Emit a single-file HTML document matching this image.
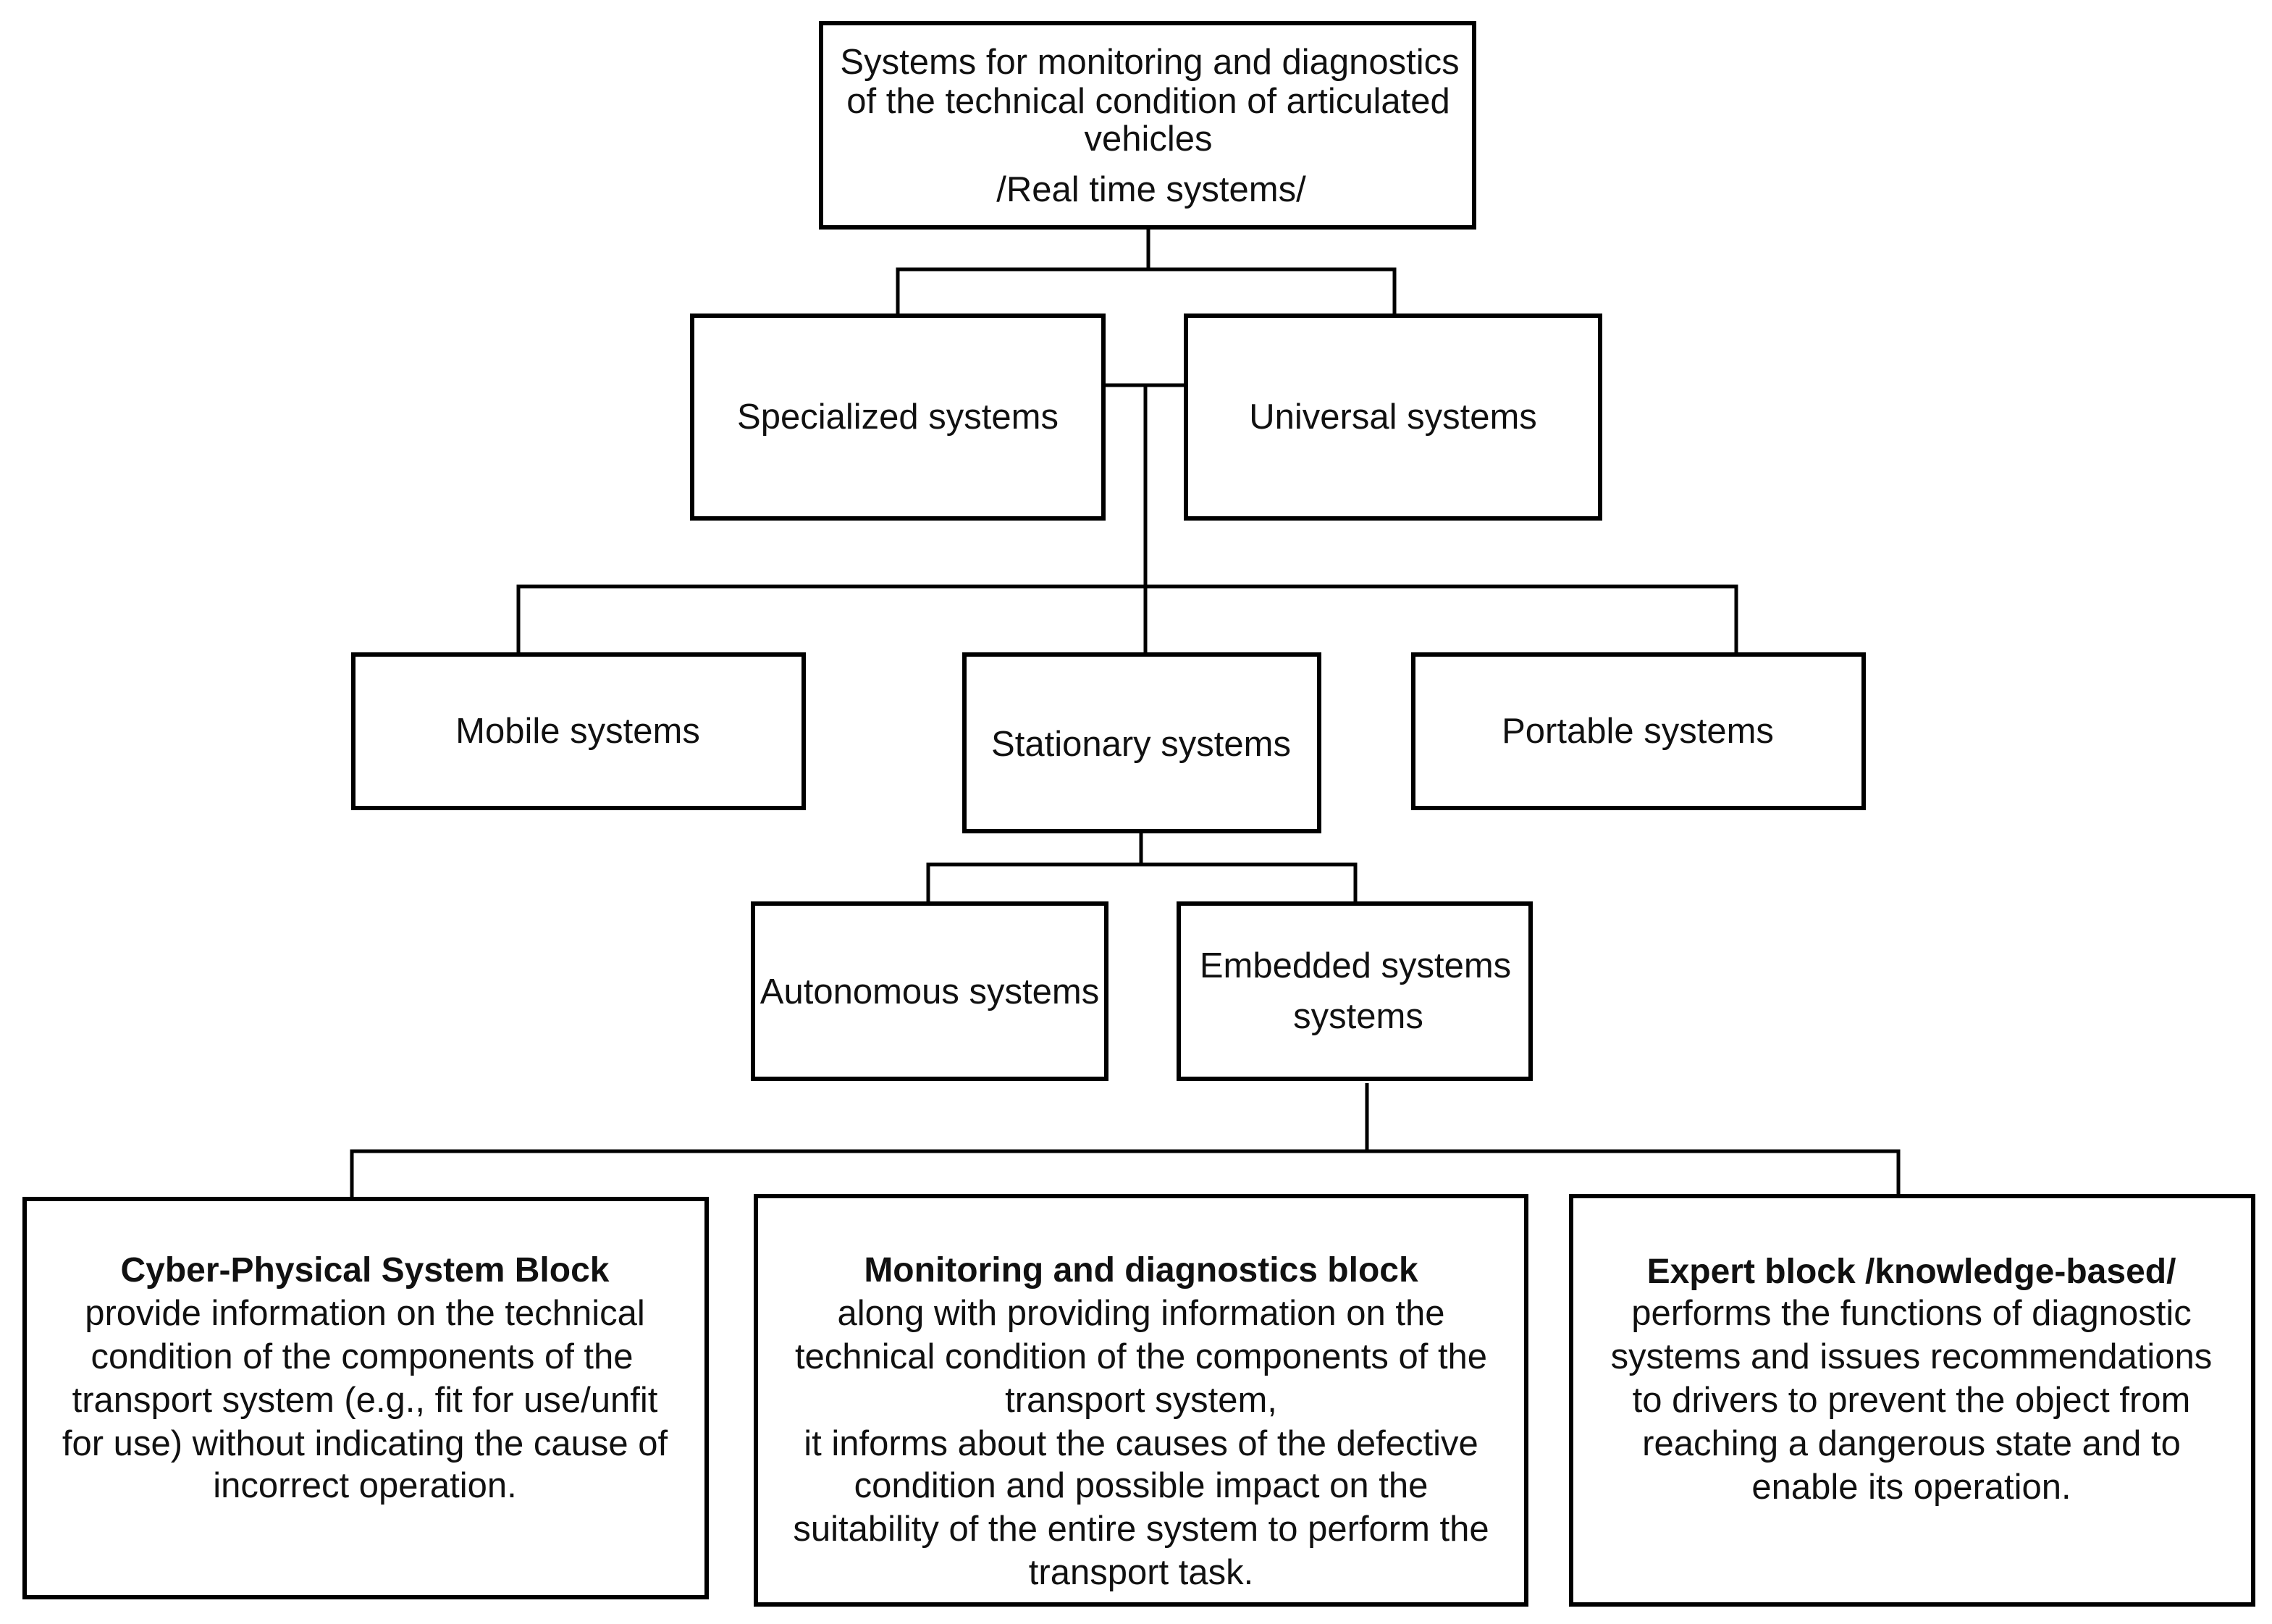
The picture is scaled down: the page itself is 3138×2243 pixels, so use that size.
<!DOCTYPE html>
<html><head><meta charset="utf-8"><style>
html,body{margin:0;padding:0;background:#fff;}
svg{display:block;}
text{font-family:"Liberation Sans",Arial,sans-serif;font-size:24.5px;fill:#111;text-anchor:middle;}
.b{font-weight:bold;font-size:24px;}
rect{fill:#fff;stroke:#000;stroke-width:3;}
line,polyline{stroke:#000;stroke-width:2.5;fill:none;}
</style></head><body>
<svg width="3138" height="2243" viewBox="0 0 1569 1121.5">
<polyline points="793,157 793,186"/>
<polyline points="620,218 620,186 963,186 963,218"/>
<polyline points="762,266 819,266"/>
<polyline points="791,266 791,452"/>
<polyline points="358,452 358,405 1199,405 1199,452"/>
<polyline points="788,574 788,597"/>
<polyline points="641,624 641,597 936,597 936,624"/>
<polyline points="944,748 944,795"/>
<polyline points="243,828 243,795 1311,795 1311,826"/>

<rect x="567" y="16" width="451" height="141"/>
<text x="794" y="51">Systems for monitoring and diagnostics</text>
<text x="793" y="78">of the technical condition of articulated</text>
<text x="793" y="104">vehicles</text>
<text x="795" y="139">/Real time systems/</text>

<rect x="478" y="218" width="284" height="140"/>
<text x="620" y="296">Specialized systems</text>
<rect x="819" y="218" width="286" height="140"/>
<text x="962" y="296">Universal systems</text>

<rect x="244" y="452" width="311" height="106"/>
<text x="399" y="513">Mobile systems</text>
<rect x="666" y="452" width="245" height="122"/>
<text x="788" y="522">Stationary systems</text>
<rect x="976" y="452" width="311" height="106"/>
<text x="1131" y="513">Portable systems</text>

<rect x="520" y="624" width="244" height="121"/>
<text x="642" y="693">Autonomous systems</text>
<rect x="814" y="624" width="243" height="121"/>
<text x="936" y="675">Embedded systems</text>
<text x="938" y="710">systems</text>

<rect x="17" y="828" width="471" height="275"/>
<text class="b" x="252" y="885">Cyber-Physical System Block</text>
<text x="252" y="915">provide information on the technical</text>
<text x="250" y="945">condition of the components of the</text>
<text x="252" y="975">transport system (e.g., fit for use/unfit</text>
<text x="252" y="1005">for use) without indicating the cause of</text>
<text x="252" y="1034">incorrect operation.</text>

<rect x="522" y="826" width="532" height="282"/>
<text class="b" x="788" y="885">Monitoring and diagnostics block</text>
<text x="788" y="915">along with providing information on the</text>
<text x="788" y="945">technical condition of the components of the</text>
<text x="788" y="975">transport system,</text>
<text x="788" y="1005">it informs about the causes of the defective</text>
<text x="788" y="1034">condition and possible impact on the</text>
<text x="788" y="1064">suitability of the entire system to perform the</text>
<text x="788" y="1094">transport task.</text>

<rect x="1085" y="826" width="471" height="282"/>
<text class="b" x="1320" y="886">Expert block /knowledge-based/</text>
<text x="1320" y="915">performs the functions of diagnostic</text>
<text x="1320" y="945">systems and issues recommendations</text>
<text x="1320" y="975">to drivers to prevent the object from</text>
<text x="1320" y="1005">reaching a dangerous state and to</text>
<text x="1320" y="1035">enable its operation.</text>
</svg>
</body></html>
